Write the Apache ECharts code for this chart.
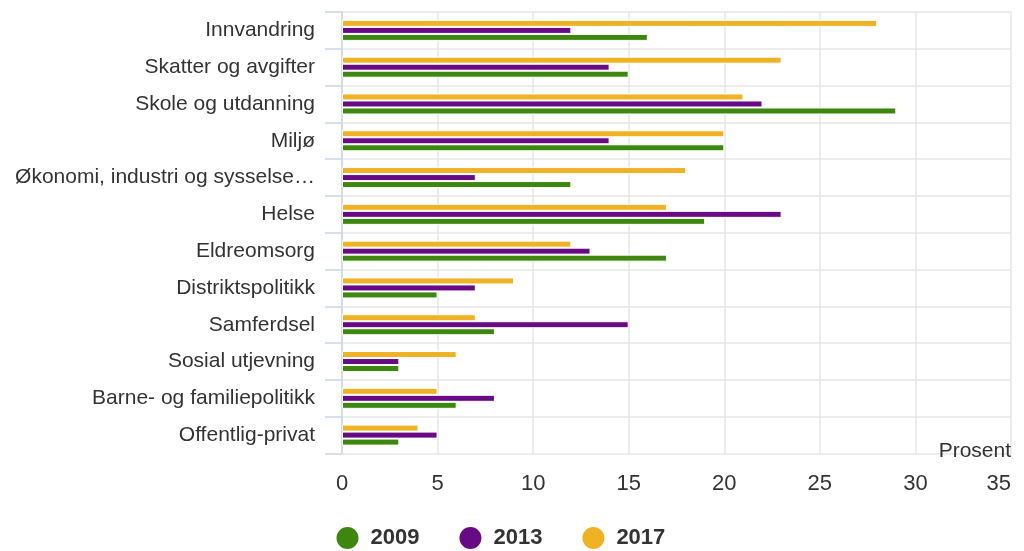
<!DOCTYPE html>
<html>
<head>
<meta charset="utf-8">
<script src="https://cdn.jsdelivr.net/npm/echarts@6/dist/echarts.min.js"></script>
<style>
  html, body { margin: 0; padding: 0; background: #fff; }
  #chart { width: 1024px; height: 551px; }
</style>
</head>
<body>
<div id="chart"></div>
<script>
// Viktigste saker for velgerne, andel i prosent
const categories = [
  'Innvandring',
  'Skatter og avgifter',
  'Skole og utdanning',
  'Miljø',
  'Økonomi, industri og sysselsetting',
  'Helse',
  'Eldreomsorg',
  'Distriktspolitikk',
  'Samferdsel',
  'Sosial utjevning',
  'Barne- og familiepolitikk',
  'Offentlig-privat'
];
const values2009 = [16, 15, 29, 20, 12, 19, 17, 5, 8, 3, 6, 3];
const values2013 = [12, 14, 22, 14, 7, 23, 13, 7, 15, 3, 8, 5];
const values2017 = [28, 23, 21, 20, 18, 17, 12, 9, 7, 6, 5, 4];
const seriesNames = ['2009', '2013', '2017'];
const axisTicks = [0, 5, 10, 15, 20, 25, 30, 35];

const FONT = '"Liberation Sans", Arial, Helvetica, sans-serif';
const colors = { '2009': '#3d8710', '2013': '#690a85', '2017': '#eeb224' };

const chart = echarts.init(document.getElementById('chart'));

function barSeries(name, data) {
  return {
    name: name,
    type: 'bar',
    data: data,
    barWidth: 7,
    barGap: '0%',
    itemStyle: { color: colors[name], borderColor: '#ffffff', borderWidth: 1 },
    emphasis: { disabled: true }
  };
}

chart.setOption({
  animation: false,
  textStyle: { fontFamily: FONT },
  grid: { left: 342, right: 13, top: 12, bottom: 97.5, containLabel: false },
  legend: {
    data: seriesNames,
    left: 329.5,
    top: 520,
    icon: 'circle',
    itemWidth: 24,
    itemHeight: 24,
    itemGap: 38,
    textStyle: {
      fontFamily: FONT,
      fontSize: 22,
      fontWeight: 'bold',
      color: '#333333',
      padding: [0, 0, 0, 6]
    }
  },
  xAxis: {
    type: 'value',
    min: axisTicks[0],
    max: axisTicks[axisTicks.length - 1],
    interval: axisTicks[1] - axisTicks[0],
    name: 'Prosent',
    nameLocation: 'end',
    nameGap: 0,
    nameTextStyle: {
      fontFamily: FONT,
      fontSize: 21,
      color: '#333333',
      align: 'right',
      verticalAlign: 'bottom',
      padding: [0, 0, -8, 0]
    },
    axisLine: { show: false },
    axisTick: { show: false },
    splitLine: { show: true, lineStyle: { color: '#e6e6e6', width: 1.5 } },
    axisLabel: {
      fontFamily: FONT,
      fontSize: 22,
      color: '#333333',
      margin: 19,
      alignMaxLabel: 'right'
    }
  },
  yAxis: {
    type: 'category',
    data: categories,
    inverse: true,
    axisLine: { show: true, lineStyle: { color: '#ccd6eb', width: 1.5 } },
    axisTick: { show: true, length: 17, lineStyle: { color: '#ccd6eb', width: 1.5 } },
    splitLine: { show: true, lineStyle: { color: '#e6e6e6', width: 1.5 } },
    axisLabel: {
      fontFamily: FONT,
      fontSize: 21,
      color: '#333333',
      margin: 27,
      width: 304,
      overflow: 'truncate',
      ellipsis: '…',
      padding: [3, 0, 0, 0]
    }
  },
  // 2017 listed first so it sits at the top of each group on the inverted axis
  series: [
    barSeries('2017', values2017),
    barSeries('2013', values2013),
    barSeries('2009', values2009)
  ]
});
</script>
</body>
</html>
